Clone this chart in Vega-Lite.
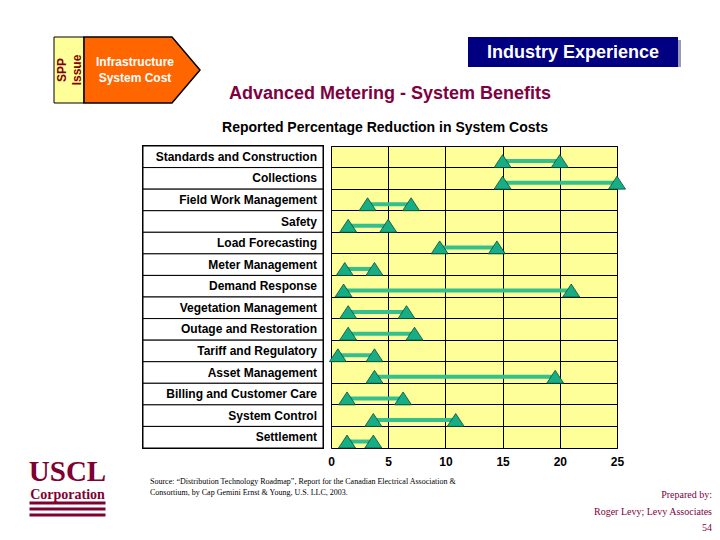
{
  "$schema": "https://vega.github.io/schema/vega-lite/v6.json",
  "background": "white",
  "padding": {"left": 0, "top": 33, "right": 0, "bottom": 0},
  "config": {"view": {"stroke": null}, "font": "Liberation Sans"},
  "datasets": {
    "one": [{"k": 1}],
    "costs": [
      {"cat": "Standards and Construction", "lo": 15, "hi": 20},
      {"cat": "Collections", "lo": 15, "hi": 25},
      {"cat": "Field Work Management", "lo": 3.2, "hi": 7},
      {"cat": "Safety", "lo": 1.5, "hi": 5},
      {"cat": "Load Forecasting", "lo": 9.5, "hi": 14.5},
      {"cat": "Meter Management", "lo": 1.2, "hi": 3.8},
      {"cat": "Demand Response", "lo": 1.1, "hi": 21},
      {"cat": "Vegetation Management", "lo": 1.5, "hi": 6.6},
      {"cat": "Outage and Restoration", "lo": 1.5, "hi": 7.3},
      {"cat": "Tariff and Regulatory", "lo": 0.6, "hi": 3.8},
      {"cat": "Asset Management", "lo": 3.8, "hi": 19.6},
      {"cat": "Billing and Customer Care", "lo": 1.4, "hi": 6.3},
      {"cat": "System Control", "lo": 3.7, "hi": 10.9},
      {"cat": "Settlement", "lo": 1.4, "hi": 3.7}
    ]
  },
  "spacing": 0,
  "vconcat": [
    {
      "bounds": "flush",
      "spacing": 0,
      "hconcat": [
        {"width": 54, "height": 1, "data": {"name": "one"}, "mark": {"type": "rect", "opacity": 0}},
        {
          "width": 30, "height": 66, "data": {"name": "one"},
          "layer": [
            {"mark": {"type": "rect", "fill": "#FFFF99", "stroke": "black", "strokeWidth": 1}},
            {"mark": {"type": "text", "text": ["SPP", "Issue"], "angle": 270, "align": "center", "baseline": "middle", "dy": -7.5, "lineHeight": 15, "fontSize": 12, "fontWeight": "bold", "fill": "#800000"}}
          ]
        },
        {
          "width": 116, "height": 66, "data": {"name": "one"},
          "layer": [
            {"mark": {"type": "point", "shape": "M-1,-0.569L0.517,-0.569L1,0L0.517,0.569L-1,0.569Z", "size": 13456, "filled": true, "fill": "#FF6600", "stroke": "black", "strokeWidth": 1.5, "opacity": 1}},
            {"mark": {"type": "text", "text": ["Infrastructure", "System Cost"], "align": "center", "baseline": "middle", "dy": -8, "dx": -7, "lineHeight": 15.5, "fontSize": 12, "fontWeight": "bold", "fill": "white"}}
          ]
        },
        {"width": 28, "height": 1, "data": {"name": "one"}, "mark": {"type": "rect", "opacity": 0}},
        {
          "width": 240, "height": 66, "data": {"name": "one"},
          "mark": {"type": "text", "text": "Advanced Metering - System Benefits", "x": 0, "dx": 1, "y": "height", "align": "left", "baseline": "bottom", "fontSize": 18, "fontWeight": "bold", "fill": "#800040"}
        },
        {
          "width": 210, "height": 30, "data": {"name": "one"},
          "layer": [
            {"mark": {"type": "rect", "fill": "#9A9AB4", "xOffset": 3, "yOffset": 3}},
            {"mark": {"type": "rect", "fill": "#000080"}},
            {"mark": {"type": "text", "text": "Industry Experience", "align": "center", "baseline": "middle", "dy": 1, "fontSize": 18, "fontWeight": "bold", "fill": "white"}}
          ]
        }
      ]
    },
    {
      "bounds": "flush",
      "spacing": 0,
      "hconcat": [
        {"width": 220, "height": 1, "data": {"name": "one"}, "mark": {"type": "rect", "opacity": 0}},
        {
          "width": 330, "height": 37, "data": {"name": "one"},
          "mark": {"type": "text", "text": "Reported Percentage Reduction in System Costs", "align": "center", "baseline": "middle", "dy": 2.5, "fontSize": 14, "fontWeight": "bold", "fill": "black"}
        }
      ]
    },
    {
      "bounds": "flush",
      "spacing": 0,
      "hconcat": [
        {"width": 30, "height": 1, "data": {"name": "one"}, "mark": {"type": "rect", "opacity": 0}},
        {
          "width": 75, "height": 302, "data": {"name": "one"},
          "layer": [
            {"mark": {"type": "text", "text": "USCL", "y": "height", "dy": 33, "align": "center", "baseline": "alphabetic", "font": "Liberation Serif", "fontSize": 29, "fontWeight": "bold", "fill": "#800030"}},
            {"mark": {"type": "text", "text": "Corporation", "y": "height", "dy": 51, "align": "center", "baseline": "alphabetic", "font": "Liberation Serif", "fontSize": 14, "fontWeight": "bold", "fill": "#800030"}},
            {"mark": {"type": "point", "y": "height", "shape": "M-1,1.407H1V1.487H-1Z M-1,1.565H1V1.645H-1Z M-1,1.723H1V1.803H-1Z", "size": 5776, "filled": true, "fill": "#800030", "strokeWidth": 0, "opacity": 1}}
          ]
        },
        {"width": 38, "height": 1, "data": {"name": "one"}, "mark": {"type": "rect", "opacity": 0}},
        {
          "width": 180, "height": 302,
          "view": {"stroke": "black", "strokeWidth": 2},
          "layer": [
            {
              "data": {"name": "costs"},
              "mark": {"type": "rect", "fill": "white", "stroke": "black", "strokeWidth": 1},
              "encoding": {"y": {"field": "cat", "type": "nominal", "sort": null, "axis": null, "scale": {"paddingInner": 0, "paddingOuter": 0}}}
            },
            {
              "data": {"name": "costs"},
              "mark": {"type": "text", "x": "width", "dx": -6, "align": "right", "baseline": "middle", "fontSize": 12, "fontWeight": "bold", "fill": "black"},
              "encoding": {"y": {"field": "cat", "type": "nominal", "sort": null, "axis": null}, "text": {"field": "cat"}}
            },
            {
              "data": {"name": "one"},
              "mark": {"type": "text", "text": ["Source: “Distribution Technology Roadmap”, Report for the Canadian Electrical Association &", "Consortium, by Cap Gemini Ernst & Young, U.S. LLC, 2003."], "x": 0, "dx": 7, "y": "height", "dy": 36, "align": "left", "baseline": "alphabetic", "lineHeight": 11, "font": "Liberation Serif", "fontSize": 8, "fill": "black"}
            }
          ]
        },
        {"width": 8, "height": 1, "data": {"name": "one"}, "mark": {"type": "rect", "opacity": 0}},
        {
          "width": 286, "height": 302,
          "data": {"name": "costs"},
          "view": {"fill": "#FFFF99", "stroke": "black", "strokeWidth": 1},
          "encoding": {
            "y": {
              "field": "cat", "type": "nominal", "sort": null, "bandPosition": 0.7,
              "scale": {"paddingInner": 0, "paddingOuter": 0},
              "axis": {"grid": true, "bandPosition": 0, "labels": false, "ticks": false, "domain": false, "title": null, "gridColor": "black", "gridOpacity": 1, "gridWidth": 1}
            }
          },
          "layer": [
            {
              "mark": {"type": "rule", "stroke": "#33C08E", "strokeWidth": 4},
              "encoding": {
                "x": {
                  "field": "lo", "type": "quantitative",
                  "scale": {"domain": [0, 25], "nice": false, "zero": false},
                  "axis": {"values": [0, 5, 10, 15, 20, 25], "grid": true, "gridColor": "black", "gridOpacity": 1, "domain": false, "ticks": false, "labelFont": "Liberation Sans Narrow, Liberation Sans, sans-serif", "labelFontWeight": "bold", "labelFontSize": 12, "labelPadding": 8, "labelColor": "black", "labelFlush": false, "labelOverlap": false, "title": null}
                },
                "x2": {"field": "hi"}
              }
            },
            {
              "mark": {"type": "point", "shape": "M0,-0.76L1,0.76L-1,0.76Z", "size": 289, "filled": true, "fill": "#17AE86", "stroke": "#0B4A38", "strokeWidth": 0.8, "opacity": 1},
              "encoding": {"x": {"field": "lo", "type": "quantitative"}}
            },
            {
              "mark": {"type": "point", "shape": "M0,-0.76L1,0.76L-1,0.76Z", "size": 289, "filled": true, "fill": "#17AE86", "stroke": "#0B4A38", "strokeWidth": 0.8, "opacity": 1},
              "encoding": {"x": {"field": "hi", "type": "quantitative"}}
            }
          ]
        },
        {
          "width": 95, "height": 302, "data": {"name": "one"},
          "mark": {"type": "text", "text": ["Prepared by:", "Roger Levy; Levy Associates", "54"], "x": "width", "y": "height", "dy": 50, "align": "right", "baseline": "alphabetic", "lineHeight": 16.5, "font": "Liberation Serif", "fontSize": 10, "fill": "#800040"}
        }
      ]
    }
  ]
}
